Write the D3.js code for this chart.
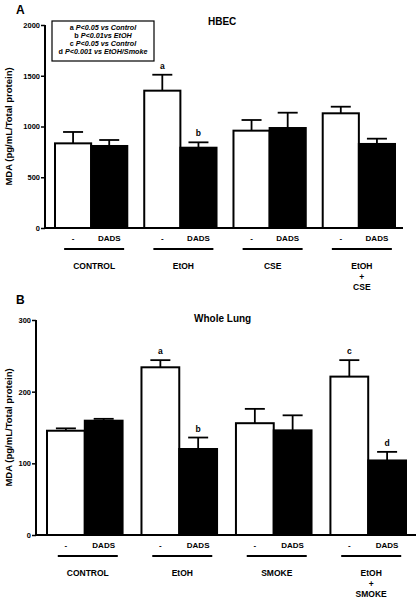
<!DOCTYPE html>
<html><head><meta charset="utf-8">
<script src="https://cdn.jsdelivr.net/npm/d3@7"></script>
<style>
html,body{margin:0;padding:0;background:#fff;}
svg{display:block;font-family:Arial,"Liberation Sans",sans-serif;}
</style></head>
<body><svg id="c" width="420" height="600"></svg>
<script>
// ---- data ----
const treatments = ["-", "DADS"];
const groupsA = ["CONTROL", "EtOH", "CSE", "EtOH|+|CSE"];
const hbecVehicle = [834, 1353, 959, 1130];
const hbecVehicleErr = [112, 157, 105, 65];
const hbecDads = [808, 791, 985, 828];
const hbecDadsErr = [59, 53, 151, 52];
const hbecSig = [["", ""], ["a", "b"], ["", ""], ["", ""]];
const ticksA = [0, 500, 1000, 1500, 2000];

const groupsB = ["CONTROL", "EtOH", "SMOKE", "EtOH|+|SMOKE"];
const lungVehicle = [145.5, 234, 156, 221];
const lungVehicleErr = [3.3, 10, 20, 23];
const lungDads = [159.5, 120, 146, 104];
const lungDadsErr = [2.6, 16, 21, 12];
const lungSig = [["", ""], ["a", "b"], ["", ""], ["c", "d"]];
const ticksB = [0, 100, 200, 300];

const legendLines = [["a", "P<0.05 vs Control"], ["b", "P<0.01vs EtOH"], ["c", "P<0.05 vs Control"], ["d", "P<0.001 vs EtOH/Smoke"]];

const svg = d3.select("#c");
const yLabel = "MDA (pg/mL/Total protein)";

function panel(o) {
  const g = svg.append("g");
  const y = d3.scaleLinear().domain([0, o.max]).range([o.y0, o.y1]);
  const x = d3.scaleBand().domain(o.groups).range([o.bx0, o.bx1]).paddingInner(o.padIn).paddingOuter(0);
  const xi = d3.scaleBand().domain(treatments).range([0, x.bandwidth()]);
  // bars
  o.groups.forEach((grp, i) => {
    const vals = [o.veh[i], o.dads[i]];
    const errs = [o.vehErr[i], o.dadsErr[i]];
    treatments.forEach((t, j) => {
      const bx = x(grp) + xi(t), bw = xi.bandwidth();
      const cx = bx + bw / 2;
      const top = y(vals[j] + errs[j]);
      g.append("line").attr("x1", cx).attr("x2", cx).attr("y1", y(vals[j])).attr("y2", top)
        .attr("stroke", "#000").attr("stroke-width", 1.8);
      g.append("line").attr("x1", cx - 10).attr("x2", cx + 10).attr("y1", top).attr("y2", top)
        .attr("stroke", "#000").attr("stroke-width", 1.8);
      g.append("rect").attr("x", bx).attr("width", bw).attr("y", y(vals[j])).attr("height", y(0) - y(vals[j]))
        .attr("fill", j === 0 ? "#fff" : "#000").attr("stroke", "#000").attr("stroke-width", 2);
      if (o.sig[i][j]) {
        g.append("text").attr("x", cx).attr("y", top - 6).attr("text-anchor", "middle")
          .attr("font-size", 8.5).attr("font-weight", "bold").text(o.sig[i][j]);
      }
      g.append("text").attr("x", cx).attr("y", o.y0 + 13).attr("text-anchor", "middle")
        .attr("font-size", 8).attr("font-weight", "bold").text(t);
    });
    const gc = x(grp) + x.bandwidth() / 2 + 3;
    g.append("line").attr("x1", gc - 30).attr("x2", gc + 30).attr("y1", o.y0 + 21).attr("y2", o.y0 + 21)
      .attr("stroke", "#000").attr("stroke-width", 1.8);
    grp.split("|").forEach((s, k) => {
      g.append("text").attr("x", gc).attr("y", o.y0 + 41 + k * 10.5).attr("text-anchor", "middle")
        .attr("font-size", 8.5).attr("font-weight", "bold").text(s);
    });
  });
  // y axis
  const ax = g.append("g").attr("transform", `translate(${o.ax},0)`)
    .call(d3.axisLeft(y).tickValues(o.ticks).tickSize(4).tickPadding(1).tickFormat(d3.format("d")));
  ax.select(".domain").attr("stroke-width", 2).attr("d", `M0,${o.y1}V${o.y0}`);
  ax.selectAll(".tick line").attr("stroke-width", 1.5);
  ax.selectAll("text").attr("font-size", 7.5).attr("font-weight", "bold").attr("font-family", "Arial, Liberation Sans, sans-serif");
  // x axis line
  g.append("line").attr("x1", o.ax).attr("x2", o.axEnd).attr("y1", o.y0).attr("y2", o.y0)
    .attr("stroke", "#000").attr("stroke-width", 2);
  // y label
  g.append("text").attr("transform", `translate(${o.labX},${(o.y0 + o.y1) / 2}) rotate(-90)`)
    .attr("text-anchor", "middle").attr("font-size", 9.5).attr("font-weight", "bold").text(yLabel);
  // title
  g.append("text").attr("x", o.titleX).attr("y", o.titleY).attr("font-size", 10).attr("font-weight", "bold").text(o.title);
  g.append("text").attr("x", 16).attr("y", o.letterY).attr("font-size", 12).attr("font-weight", "bold").text(o.letter);
  return g;
}

panel({groups: groupsA, veh: hbecVehicle, vehErr: hbecVehicleErr, dads: hbecDads, dadsErr: hbecDadsErr,
  sig: hbecSig, ticks: ticksA, max: 2000, y0: 228, y1: 25, bx0: 55, bx1: 395, padIn: 0.19,
  ax: 45, axEnd: 403, labX: 12, title: "HBEC", titleX: 208, titleY: 25, letter: "A", letterY: 14});

panel({groups: groupsB, veh: lungVehicle, vehErr: lungVehicleErr, dads: lungDads, dadsErr: lungDadsErr,
  sig: lungSig, ticks: ticksB, max: 300, y0: 535, y1: 320, bx0: 47, bx1: 406, padIn: 0.2,
  ax: 36, axEnd: 416, labX: 12, title: "Whole Lung", titleX: 194, titleY: 322, letter: "B", letterY: 304});

// legend
const lg = svg.append("g");
lg.append("rect").attr("x", 52).attr("y", 21).attr("width", 102).attr("height", 40)
  .attr("fill", "#fff").attr("stroke", "#000").attr("stroke-width", 1.2);
legendLines.forEach((d, i) => {
  const t = lg.append("text").attr("x", 103).attr("y", 29.5 + i * 8.3).attr("text-anchor", "middle")
    .attr("font-size", 7.2).attr("font-weight", "bold");
  t.append("tspan").text(d[0] + " ");
  t.append("tspan").attr("font-style", "italic").text(d[1]);
});
</script></body></html>
